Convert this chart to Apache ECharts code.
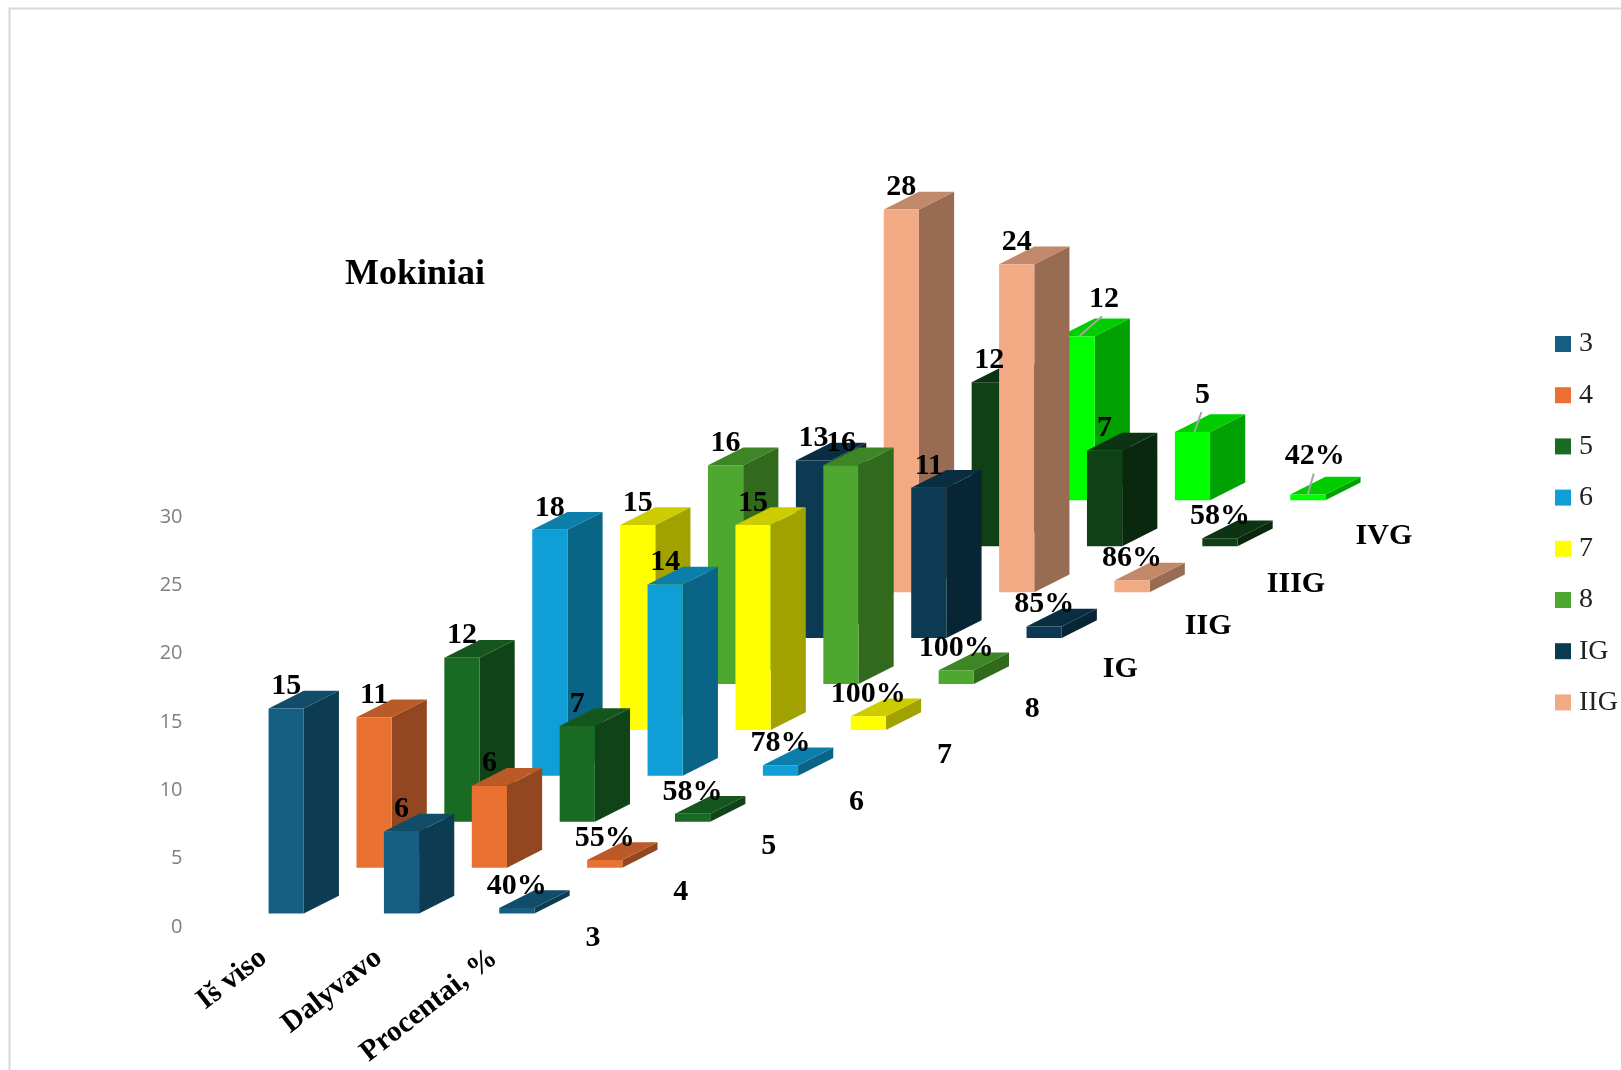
<!DOCTYPE html>
<html><head><meta charset="utf-8">
<style>html,body{margin:0;padding:0;background:#fff;overflow:hidden}#c{width:1621px;height:1070px}</style>
<script src="https://cdn.jsdelivr.net/npm/echarts@6/dist/echarts.min.js"></script>
</head><body><div id="c"></div>
<script>
const categories = ['Iš viso', 'Dalyvavo', 'Procentai, %'];
const rowNames = ['3', '4', '5', '6', '7', '8', 'IG', 'IIG', 'IIIG', 'IVG'];
const legendNames = ['3', '4', '5', '6', '7', '8', 'IG', 'IIG'];
const totals = [15, 11, 12, 18, 15, 16, 13, 28, 12, 12];
const participated = [6, 6, 7, 14, 15, 16, 11, 24, 7, 5];
const shares = [0.40, 0.55, 0.58, 0.78, 1.00, 1.00, 0.85, 0.86, 0.58, 0.42];
const yTicks = { min: 0, max: 30, interval: 5 };
const colors = ['#156082', '#E97132', '#196B24', '#0F9ED5', '#FFFF00', '#4EA72E', '#0B3A52', '#F2AA84', '#0F4016', '#00FF00'];

const columns = [totals, participated, shares];
const SERIF = '"Liberation Serif","DejaVu Serif",serif';

function shade(hex, k) {
  const n = parseInt(hex.slice(1), 16);
  const c = s => Math.round(((n >> s) & 255) * k);
  return 'rgb(' + c(16) + ',' + c(8) + ',' + c(0) + ')';
}
// oblique projection, expressed in band widths (x) and value units (y)
const P = { barW: 0.305, depthX: 0.305, depthY: 1.3, rowX: 0.762, rowY: 3.36, baseY: 0.98 };

function frame(api, row, cat, value) {
  const band = api.size([1, 0])[0];
  const unit = api.size([0, 1])[1];
  const o = api.coord([cat, 0]);
  const left = o[0] - band * P.barW / 2 + row * band * P.rowX;
  const bottom = o[1] - (P.baseY + row * P.rowY) * unit;
  return { band, unit, left, bottom, w: band * P.barW, dx: band * P.depthX, dy: P.depthY * unit, top: bottom - value * unit };
}
function renderBar(params, api) {
  const row = params.seriesIndex;
  const f = frame(api, row, api.value(0), api.value(1));
  const col = colors[row];
  const r = f.left + f.w;
  return { type: 'group', children: [
    { type: 'polygon', shape: { points: [[r, f.bottom], [r + f.dx, f.bottom - f.dy], [r + f.dx, f.top - f.dy], [r, f.top]] }, style: { fill: shade(col, 0.63) } },
    { type: 'polygon', shape: { points: [[f.left, f.top], [r, f.top], [r + f.dx, f.top - f.dy], [f.left + f.dx, f.top - f.dy]] }, style: { fill: shade(col, 0.8) } },
    { type: 'rect', shape: { x: f.left, y: f.top, width: f.w, height: f.bottom - f.top }, style: { fill: col } }
  ] };
}
// leader-line labels for the last row, which the source pushed aside
const pushed = { 9: [[27, -37], [10, -37], [7, -38]] };
// small vertical nudges of the row names along the depth axis
const rowNameNudge = [2, 0, -1, 0, -2, -4, 1, 3, 5, 2];
function labelText(cat, v) { return cat === 2 ? Math.round(v * 100) + '%' : String(v); }
function renderLabel(params, api) {
  const row = api.value(0), cat = api.value(1), v = api.value(2);
  const f = frame(api, row, cat, v);
  const cx = f.left + f.w / 2;
  const children = [];
  let lx = cx, ly = f.top - 22;
  if (pushed[row]) {
    lx = cx + pushed[row][cat][0]; ly = f.top + pushed[row][cat][1];
    children.push({ type: 'line', shape: { x1: cx + (cat === 2 ? 0 : 2), y1: f.top, x2: lx - (cat === 0 ? 2 : 1) , y2: ly + 17 }, style: { stroke: '#a6a6a6', lineWidth: 2 } });
  }
  children.push({ type: 'text', style: { text: labelText(cat, v), x: lx, y: ly, align: 'center', verticalAlign: 'middle', fill: '#000', font: 'bold 30px ' + SERIF } });
  if (cat === 2) {
    children.push({ type: 'text', style: { text: rowNames[row], x: cx + f.band * 0.66, y: f.bottom + 23 + row * 1.2 + rowNameNudge[row], align: 'center', verticalAlign: 'middle', fill: '#000', font: 'bold 30px ' + SERIF } });
  }
  return { type: 'group', children };
}

const barSeries = rowNames.map((name, i) => ({
  type: 'custom', name, z: 20 - i, renderItem: renderBar,
  itemStyle: { color: colors[i] },
  encode: { x: 0, y: 1 },
  data: categories.map((c, j) => [j, columns[j][i]])
}));
const labelRows = [];
rowNames.forEach((n, i) => categories.forEach((c, j) => labelRows.push([i, j, columns[j][i]])));
const labelSeries = {
  type: 'custom', name: 'labels', z: 40, renderItem: renderLabel, silent: true,
  encode: { x: 1, y: 2 }, data: labelRows
};

const chart = echarts.init(document.getElementById('c'), null, { renderer: 'canvas' });
chart.setOption({
  backgroundColor: '#fff', animation: false,
  title: { text: 'Mokiniai', left: 340, top: 252, textStyle: { fontFamily: SERIF, fontWeight: 'bold', fontSize: 36, color: '#000' } },
  legend: {
    data: legendNames, orient: 'vertical', left: 1550, top: 325, icon: 'rect',
    itemWidth: 16, itemHeight: 16, itemGap: 23.2, textStyle: { fontFamily: SERIF, fontSize: 28, color: '#222', padding: [0, 0, 0, 3] }
  },
  grid: { left: 228.5, width: 346, top: 517, height: 410.5 },
  xAxis: { type: 'category', data: categories, axisLine: { show: false }, axisTick: { show: false },
    axisLabel: { interval: 0, rotate: 38, margin: 10, padding: [0, 29, 0, 0], fontFamily: SERIF, fontWeight: 'bold', fontSize: 29.5, color: '#000' } },
  yAxis: { type: 'value', min: yTicks.min, max: yTicks.max, interval: yTicks.interval, axisLine: { show: false }, axisTick: { show: false }, splitLine: { show: false },
    axisLabel: { margin: 46, padding: [8, 0, 0, 0], fontFamily: '"Open Sans",sans-serif', fontSize: 20, color: '#7f7f7f' } },
  graphic: [
    { type: 'rect', z: 0, shape: { x: 9.5, y: 8.5, width: 1700, height: 1200 }, style: { fill: 'none', stroke: '#d9d9d9', lineWidth: 2 } }
  ],
  series: barSeries.concat([labelSeries])
});
</script></body></html>
